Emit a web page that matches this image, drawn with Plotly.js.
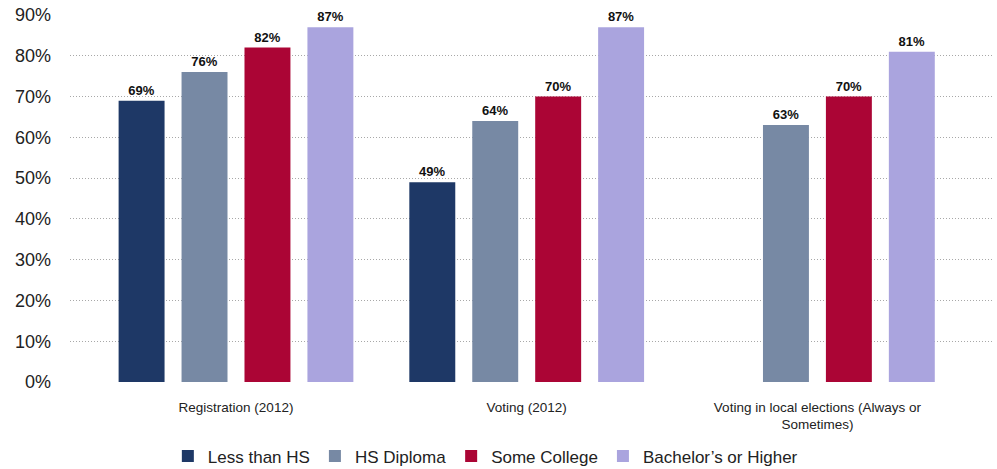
<!DOCTYPE html>
<html>
<head>
<meta charset="utf-8">
<script src="https://cdn.plot.ly/plotly-3.0.1.min.js"></script>
<style>html,body{margin:0;padding:0;background:#fff;}#chart{width:997px;height:469px;}</style>
</head>
<body>
<div id="chart"></div>
<script>
const categories = ["Registration (2012)", "Voting (2012)", "Voting in local elections (Always or<br>Sometimes)"];
const seriesNames = ["Less than HS", "HS Diploma", "Some College", "Bachelor\u2019s or Higher"];
const lessThanHS = [0.69, 0.49, null];
const hsDiploma = [0.76, 0.64, 0.63];
const someCollege = [0.82, 0.70, 0.70];
const bachelors = [0.87, 0.87, 0.81];
const colors = ["#1e3866", "#7789a4", "#ab0535", "#aaa4de"];
const yTicks = [0, 0.1, 0.2, 0.3, 0.4, 0.5, 0.6, 0.7, 0.8, 0.9];

const values = [lessThanHS, hsDiploma, someCollege, bachelors];
const traces = values.map((v, i) => ({
  type: 'bar',
  name: seriesNames[i],
  x: categories,
  y: v,
  marker: {color: colors[i]},
  texttemplate: '%{y:.0%}',
  textposition: 'outside',
  cliponaxis: false,
  textfont: {family: 'Liberation Sans, Arial, sans-serif', size: 13, color: '#111', weight: 'bold'},
  hoverinfo: 'none'
}));

const layout = {
  width: 997, height: 469,
  margin: {l: 70, r: 4, t: 15, b: 86.5, autoexpand: false},
  paper_bgcolor: '#fff', plot_bgcolor: '#fff',
  barmode: 'group',
  bargap: 0.134,
  bargroupgap: 0.27,
  showlegend: true,
  legend: {orientation: 'h', x: 0.45, xanchor: 'center', y: -0.203, yanchor: 'middle',
    font: {family: 'Liberation Sans, Arial, sans-serif', size: 17, color: '#222'},
    itemwidth: 30, traceorder: 'normal'},
  xaxis: {
    type: 'category',
    range: [-0.571, 2.604],
    showgrid: false, zeroline: false, showline: false,
    ticks: '', ticklabelstandoff: 15,
    tickfont: {family: 'Liberation Sans, Arial, sans-serif', size: 13.5, color: '#222'}
  },
  yaxis: {
    range: [0, 0.9],
    tickvals: yTicks,
    tickformat: '.0%',
    showgrid: true, gridcolor: '#a8a8a8', griddash: '1px,2px', gridwidth: 1,
    zeroline: false, showline: false, ticks: '',
    ticklabelstandoff: 18,
    tickfont: {family: 'Liberation Sans, Arial, sans-serif', size: 18, color: '#222'}
  }
};

Plotly.newPlot('chart', traces, layout, {displayModeBar: false, staticPlot: true});
</script>
</body>
</html>
